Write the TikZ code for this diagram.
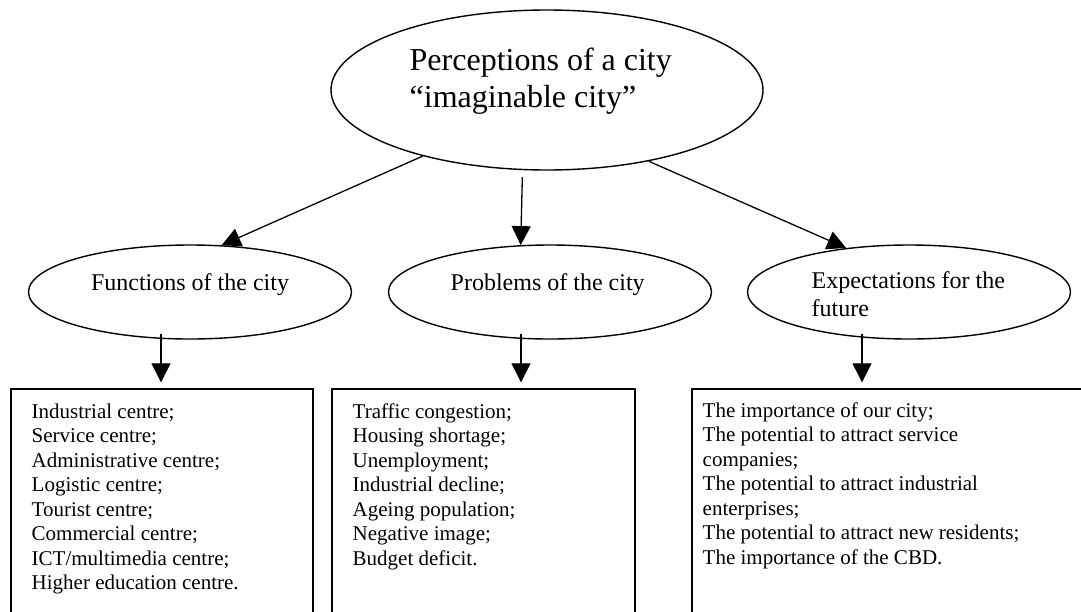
\documentclass[tikz,border=0pt]{standalone}
\usepackage{fontspec}
\setmainfont{Liberation Serif}
\usetikzlibrary{arrows.meta,shapes.geometric}
\begin{document}
\begin{tikzpicture}[x=1pt,y=-1pt,line width=1.4pt,
  bigell/.style={draw, ellipse, minimum width=432pt, minimum height=160pt, inner sep=0pt},
  smallell/.style={draw, ellipse, minimum width=323pt, minimum height=94pt, inner sep=0pt},
  listbox/.style={draw, rectangle, inner sep=0pt},
  txt/.style={inner sep=0pt, anchor=base west},
  bigtxt/.style={txt, font=\fontsize{32}{37}\selectfont},
  midtxt/.style={txt, font=\fontsize{24}{28}\selectfont},
  boxtxt/.style={txt, font=\fontsize{21}{24.5}\selectfont},
  arr/.style={line width=1.3pt, -{Triangle[length=19pt,width=19pt]}}]
\path[use as bounding box] (0,0) rectangle (1081,611);
\clip (0,0) rectangle (1081,611);

% top ellipse
\node[bigell] (top) at (547,90) {};
\node[bigtxt] (toptxt) at (409,70) {\begin{tabular}[t]{@{}l@{}}Perceptions of a city\\“imaginable city”\end{tabular}};

% second row ellipses
\node[smallell] (fun) at (190,292) {};
\node[smallell] (prob) at (550,292) {};
\node[smallell] (exp) at (909,292) {};
\node[midtxt, anchor=base] (funtxt) at (190,290) {Functions of the city};
\node[midtxt] (probtxt) at (450,290) {Problems of the city};
\node[midtxt] (exptxt) at (811,288) {\begin{tabular}[t]{@{}l@{}}Expectations for the\\future\end{tabular}};

% boxes
\node[listbox, minimum width=302pt, minimum height=260pt] (fbox) at (162,519) {};
\node[listbox, minimum width=303pt, minimum height=260pt] (pbox) at (483.5,519) {};
\node[listbox, minimum width=420pt, minimum height=260pt] (ebox) at (902,519) {};

\node[boxtxt] (ftxt) at (31,418) {\begin{tabular}[t]{@{}l@{}}Industrial centre;\\Service centre;\\Administrative centre;\\Logistic centre;\\Tourist centre;\\Commercial centre;\\ICT/multimedia centre;\\Higher education centre.\end{tabular}};
\node[boxtxt] (ptxt) at (352,418) {\begin{tabular}[t]{@{}l@{}}Traffic congestion;\\Housing shortage;\\Unemployment;\\Industrial decline;\\Ageing population;\\Negative image;\\Budget deficit.\end{tabular}};
\node[boxtxt] (etxt) at (702,417) {\begin{tabular}[t]{@{}l@{}}The importance of our city;\\The potential to attract service\\companies;\\The potential to attract industrial\\enterprises;\\The potential to attract new residents;\\The importance of the CBD.\end{tabular}};

% arrows from top
\draw[arr] (top.208) -- (fun.56);
\draw[arr] (top.253.2) [shorten <=7pt] -- (prob.122.2);
\draw[arr] (top.-35) -- (exp.145.4);

% arrows down to boxes
\draw[arr] ([xshift=-29pt,yshift=6pt]fun.south) -- ([xshift=-29pt,yshift=6pt]fun.south |- fbox.north);
\draw[arr] ([xshift=-29pt,yshift=6pt]prob.south) -- ([xshift=-29pt,yshift=6pt]prob.south |- pbox.north);
\draw[arr] ([xshift=-47pt,yshift=6pt]exp.south) -- ([xshift=-47pt,yshift=6pt]exp.south |- ebox.north);
\end{tikzpicture}
\end{document}
